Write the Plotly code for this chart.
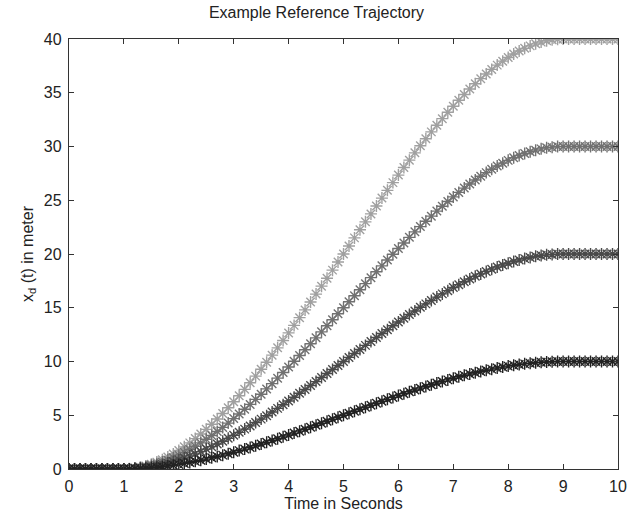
import plotly.graph_objects as go

time = [0.0, 0.1, 0.2, 0.3, 0.4, 0.5, 0.6, 0.7, 0.8, 0.9,
        1.0, 1.1, 1.2, 1.3, 1.4, 1.5, 1.6, 1.7, 1.8, 1.9,
        2.0, 2.1, 2.2, 2.3, 2.4, 2.5, 2.6, 2.7, 2.8, 2.9,
        3.0, 3.1, 3.2, 3.3, 3.4, 3.5, 3.6, 3.7, 3.8, 3.9,
        4.0, 4.1, 4.2, 4.3, 4.4, 4.5, 4.6, 4.7, 4.8, 4.9,
        5.0, 5.1, 5.2, 5.3, 5.4, 5.5, 5.6, 5.7, 5.8, 5.9,
        6.0, 6.1, 6.2, 6.3, 6.4, 6.5, 6.6, 6.7, 6.8, 6.9,
        7.0, 7.1, 7.2, 7.3, 7.4, 7.5, 7.6, 7.7, 7.8, 7.9,
        8.0, 8.1, 8.2, 8.3, 8.4, 8.5, 8.6, 8.7, 8.8, 8.9,
        9.0, 9.1, 9.2, 9.3, 9.4, 9.5, 9.6, 9.7, 9.8, 9.9,
        10.0]

traj_10 = [0, 0, 0, 0, 0, 0, 0, 0, 0, 0, 0,
           0.00, 0.02, 0.04, 0.07, 0.11, 0.16, 0.22, 0.28, 0.35, 0.43,
           0.52, 0.61, 0.71, 0.81, 0.92, 1.04, 1.16, 1.29, 1.42, 1.56,
           1.71, 1.85, 2.00, 2.16, 2.32, 2.48, 2.65, 2.82, 2.99, 3.16,
           3.34, 3.52, 3.70, 3.88, 4.07, 4.25, 4.44, 4.63, 4.81, 5.00,
           5.19, 5.37, 5.56, 5.75, 5.93, 6.12, 6.30, 6.48, 6.66, 6.84,
           7.01, 7.18, 7.35, 7.52, 7.68, 7.84, 8.00, 8.15, 8.29, 8.44,
           8.58, 8.71, 8.84, 8.96, 9.08, 9.19, 9.29, 9.39, 9.48, 9.57,
           9.65, 9.72, 9.78, 9.84, 9.89, 9.93, 9.96, 9.98, 10.00,
           10, 10, 10, 10, 10, 10, 10, 10, 10, 10, 10]

traj_20 = [0, 0, 0, 0, 0, 0, 0, 0, 0, 0, 0,
           0.01, 0.04, 0.08, 0.15, 0.22, 0.32, 0.43, 0.56, 0.70, 0.86,
           1.03, 1.22, 1.41, 1.62, 1.85, 2.08, 2.33, 2.58, 2.85, 3.13,
           3.41, 3.71, 4.01, 4.32, 4.64, 4.96, 5.30, 5.64, 5.98, 6.33,
           6.68, 7.04, 7.40, 7.77, 8.13, 8.51, 8.88, 9.25, 9.63, 10.00,
           10.38, 10.75, 11.12, 11.50, 11.87, 12.23, 12.60, 12.96, 13.32, 13.67,
           14.02, 14.37, 14.70, 15.04, 15.36, 15.68, 15.99, 16.29, 16.59, 16.88,
           17.15, 17.42, 17.67, 17.92, 18.15, 18.38, 18.59, 18.79, 18.97, 19.14,
           19.30, 19.44, 19.57, 19.68, 19.78, 19.86, 19.92, 19.96, 19.99,
           20, 20, 20, 20, 20, 20, 20, 20, 20, 20, 20]

traj_30 = [0, 0, 0, 0, 0, 0, 0, 0, 0, 0, 0,
           0.01, 0.06, 0.12, 0.22, 0.34, 0.48, 0.65, 0.84, 1.05, 1.29,
           1.55, 1.82, 2.12, 2.43, 2.77, 3.12, 3.49, 3.87, 4.27, 4.69,
           5.12, 5.56, 6.01, 6.48, 6.96, 7.45, 7.94, 8.45, 8.97, 9.49,
           10.02, 10.56, 11.10, 11.65, 12.20, 12.76, 13.32, 13.88, 14.44, 15.00,
           15.56, 16.12, 16.68, 17.24, 17.80, 18.35, 18.90, 19.44, 19.98, 20.51,
           21.03, 21.55, 22.06, 22.55, 23.04, 23.52, 23.99, 24.44, 24.88, 25.31,
           25.73, 26.13, 26.51, 26.88, 27.23, 27.57, 27.88, 28.18, 28.45, 28.71,
           28.95, 29.16, 29.35, 29.52, 29.66, 29.78, 29.88, 29.94, 29.99,
           30, 30, 30, 30, 30, 30, 30, 30, 30, 30, 30]

traj_40 = [0, 0, 0, 0, 0, 0, 0, 0, 0, 0, 0,
           0.02, 0.07, 0.16, 0.29, 0.45, 0.64, 0.87, 1.12, 1.40, 1.72,
           2.06, 2.43, 2.83, 3.25, 3.69, 4.16, 4.65, 5.16, 5.70, 6.25,
           6.82, 7.41, 8.02, 8.64, 9.28, 9.93, 10.59, 11.27, 11.96, 12.66,
           13.36, 14.08, 14.80, 15.53, 16.27, 17.01, 17.75, 18.50, 19.25, 20.00,
           20.75, 21.50, 22.25, 22.99, 23.73, 24.47, 25.20, 25.92, 26.64, 27.34,
           28.04, 28.73, 29.41, 30.07, 30.72, 31.36, 31.98, 32.59, 33.18, 33.75,
           34.30, 34.84, 35.35, 35.84, 36.31, 36.75, 37.17, 37.57, 37.94, 38.28,
           38.60, 38.88, 39.13, 39.36, 39.55, 39.71, 39.84, 39.93, 39.98,
           40, 40, 40, 40, 40, 40, 40, 40, 40, 40, 40]

series = [
    ("x_d = 40", traj_40, "#a0a0a0"),
    ("x_d = 30", traj_30, "#717171"),
    ("x_d = 20", traj_20, "#4a4a4a"),
    ("x_d = 10", traj_10, "#222222"),
]

x_ticks = [0, 1, 2, 3, 4, 5, 6, 7, 8, 9, 10]
y_ticks = [0, 5, 10, 15, 20, 25, 30, 35, 40]

fig = go.Figure()
for name, vals, col in series:
    fig.add_trace(go.Scatter(
        x=time, y=vals, mode="markers", name=name,
        marker=dict(symbol="asterisk-open", size=10, color=col,
                    line=dict(color=col, width=1.4)),
    ))

font = dict(family="Liberation Sans, Arial, sans-serif", color="#222222")
axis_common = dict(
    showline=True, linecolor="#333333", linewidth=1.4, mirror="ticks",
    ticks="inside", ticklen=5, tickcolor="#333333", tickwidth=1.4,
    showgrid=False, zeroline=False, ticklabelstandoff=3, automargin=False,
    tickfont=dict(size=16, **font),
)
fig.update_layout(
    width=633, height=514,
    margin=dict(l=69, r=15, t=39, b=45, autoexpand=False),
    paper_bgcolor="white", plot_bgcolor="white",
    showlegend=False,
    title=dict(text="Example Reference Trajectory", x=0.5, xanchor="center",
               y=1 - 12 / 514, yanchor="middle", font=dict(size=16, **font)),
    xaxis=dict(range=[0, 10], tickvals=x_ticks, ticktext=[str(v) for v in x_ticks],
               title=dict(text="Time in Seconds", standoff=2, font=dict(size=16, **font)),
               **axis_common),
    yaxis=dict(range=[0, 40], tickvals=y_ticks, ticktext=[str(v) for v in y_ticks],
               title=dict(text="x<sub>d</sub> (t) in meter", standoff=6, font=dict(size=16, **font)),
               **axis_common),
)
fig.write_html("out.html")
